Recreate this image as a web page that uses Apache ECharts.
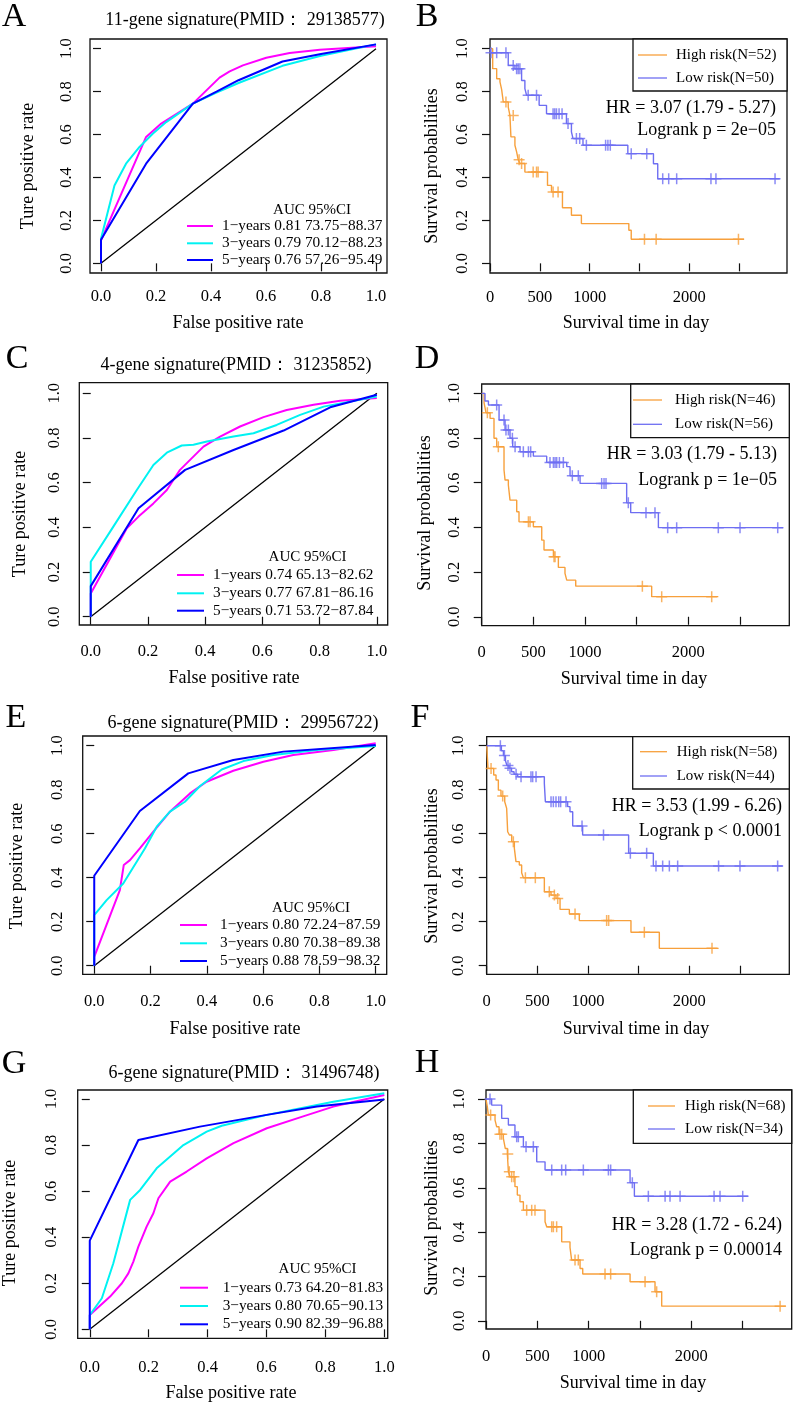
<!DOCTYPE html>
<html><head><meta charset="utf-8">
<script src="https://cdn.jsdelivr.net/npm/echarts@6/dist/echarts.min.js"></script>
<style>html,body{margin:0;padding:0;background:#fff}#c{width:795px;height:1408px}</style>
</head><body><div id="c"></div><script>
// ---------------- DATA ----------------
// ROC curves: [false positive rate, true positive rate]
const rocA_1y = [[0,0],[0,0.107],[0.164,0.589],[0.219,0.651],[0.334,0.744],[0.431,0.865],[0.468,0.894],[0.516,0.922],[0.601,0.958],[0.686,0.98],[0.796,0.995],[1,1.011]];
const rocA_3y = [[0,0],[0,0.115],[0.049,0.363],[0.091,0.464],[0.14,0.542],[0.188,0.604],[0.237,0.658],[0.334,0.744],[0.42,0.795],[0.5,0.84],[0.66,0.92],[0.8,0.967],[1,1.02]];
const rocA_5y = [[0,0],[0,0.11],[0.164,0.464],[0.334,0.744],[0.42,0.8],[0.5,0.853],[0.66,0.94],[0.8,0.975],[1,1.02]];
const rocC_1y = [[0,0],[0,0.104],[0.126,0.396],[0.167,0.448],[0.219,0.507],[0.266,0.567],[0.312,0.657],[0.394,0.761],[0.452,0.806],[0.522,0.851],[0.604,0.893],[0.685,0.925],[0.779,0.948],[0.872,0.966],[1,0.978]];
const rocC_3y = [[0,0],[0,0.246],[0.079,0.403],[0.161,0.567],[0.219,0.679],[0.266,0.734],[0.318,0.766],[0.359,0.769],[0.406,0.784],[0.499,0.806],[0.569,0.821],[0.65,0.858],[0.732,0.903],[0.814,0.94],[1,0.985]];
const rocC_5y = [[0,0],[0,0.137],[0.167,0.485],[0.33,0.657],[0.499,0.746],[0.674,0.833],[0.837,0.937],[1,0.993]];
const rocE_1y = [[0,0],[0,0.04],[0.091,0.344],[0.105,0.458],[0.127,0.48],[0.162,0.533],[0.21,0.609],[0.269,0.7],[0.34,0.783],[0.399,0.836],[0.494,0.886],[0.601,0.927],[0.707,0.958],[0.85,0.98],[1,1.011]];
const rocE_3y = [[0,0],[0,0.23],[0.044,0.298],[0.103,0.374],[0.18,0.533],[0.222,0.632],[0.269,0.7],[0.322,0.745],[0.376,0.817],[0.453,0.892],[0.53,0.93],[0.636,0.958],[0.79,0.98],[1,0.998]];
const rocE_5y = [[0,0],[0,0.409],[0.162,0.703],[0.334,0.874],[0.494,0.935],[0.672,0.973],[1,1.003]];
const rocG_1y = [[0,0],[0,0.062],[0.069,0.142],[0.109,0.2],[0.131,0.243],[0.148,0.294],[0.165,0.359],[0.193,0.446],[0.216,0.504],[0.233,0.569],[0.273,0.641],[0.329,0.685],[0.397,0.742],[0.488,0.808],[0.601,0.873],[0.714,0.92],[0.827,0.967],[1,1.017]];
const rocG_3y = [[0,0],[0,0.062],[0.041,0.135],[0.08,0.287],[0.137,0.562],[0.171,0.605],[0.227,0.699],[0.318,0.8],[0.397,0.858],[0.448,0.884],[0.601,0.931],[0.827,0.988],[1,1.025]];
const rocG_5y = [[0,0],[0,0.385],[0.165,0.822],[0.374,0.88],[0.601,0.931],[0.771,0.967],[1,0.998]];
const rocDiag = [[0,0],[1,1]];

const rocTitles = ['11-gene signature(PMID\uFF1A 29138577)','4-gene signature(PMID\uFF1A 31235852)','6-gene signature(PMID\uFF1A 29956722)','6-gene signature(PMID\uFF1A 31496748)'];
const rocLegendA = ['1\u2212years 0.81 73.75\u221288.37','3\u2212years 0.79 70.12\u221288.23','5\u2212years 0.76 57.26\u221295.49'];
const rocLegendC = ['1\u2212years 0.74 65.13\u221282.62','3\u2212years 0.77 67.81\u221286.16','5\u2212years 0.71 53.72\u221287.84'];
const rocLegendE = ['1\u2212years 0.80 72.24\u221287.59','3\u2212years 0.80 70.38\u221289.38','5\u2212years 0.88 78.59\u221298.32'];
const rocLegendG = ['1\u2212years 0.73 64.20\u221281.83','3\u2212years 0.80 70.65\u221290.13','5\u2212years 0.90 82.39\u221296.88'];
const rocTicks = [0,0.2,0.4,0.6,0.8,1];

// Kaplan-Meier: [day, survival]
const kmB_high = [[0,1],[27,0.907],[67,0.86],[100,0.845],[117,0.809],[133,0.752],[183,0.728],[200,0.689],[210,0.589],[250,0.55],[267,0.519],[283,0.483],[300,0.465],[350,0.425],[577,0.363],[617,0.332],[727,0.259],[817,0.224],[917,0.185],[1393,0.154],[1417,0.112],[2550,0.112]];
const kmB_highCens = [[160,0.752],[233,0.689],[292,0.483],[317,0.465],[433,0.425],[467,0.425],[483,0.425],[633,0.332],[683,0.332],[1550,0.112],[1667,0.112],[2493,0.112]];
const kmB_low = [[0,1],[5,0.981],[183,0.922],[250,0.907],[317,0.852],[350,0.814],[367,0.783],[493,0.736],[567,0.697],[767,0.651],[817,0.612],[833,0.581],[933,0.55],[1383,0.511],[1640,0.464],[1683,0.394],[2907,0.394]];
const kmB_lowCens = [[10,0.981],[67,0.981],[160,0.981],[233,0.922],[267,0.907],[283,0.907],[300,0.907],[383,0.783],[467,0.783],[633,0.697],[650,0.697],[667,0.697],[693,0.697],[723,0.697],[783,0.651],[867,0.581],[900,0.581],[967,0.55],[1160,0.55],[1183,0.55],[1207,0.55],[1417,0.511],[1573,0.511],[1733,0.394],[1793,0.394],[1873,0.394],[2217,0.394],[2267,0.394],[2860,0.394]];

const kmD_high = [[0,1],[23,0.958],[42,0.913],[81,0.888],[119,0.799],[145,0.761],[216,0.657],[226,0.612],[258,0.59],[274,0.522],[339,0.47],[361,0.425],[500,0.403],[581,0.343],[603,0.299],[694,0.269],[742,0.221],[806,0.194],[823,0.164],[910,0.137],[1645,0.09],[2290,0.09]];
const kmD_highCens = [[55,0.913],[161,0.761],[452,0.425],[468,0.425],[700,0.269],[710,0.269],[1555,0.137],[1742,0.09],[2226,0.09]];
const kmD_low = [[0,1],[32,0.966],[65,0.948],[168,0.881],[226,0.836],[274,0.799],[300,0.761],[371,0.739],[500,0.719],[629,0.691],[823,0.672],[855,0.631],[952,0.597],[1403,0.51],[1442,0.466],[1710,0.399],[2919,0.399]];
const kmD_lowCens = [[145,0.948],[216,0.881],[235,0.836],[258,0.836],[297,0.799],[323,0.761],[403,0.739],[452,0.739],[474,0.739],[661,0.691],[694,0.691],[710,0.691],[726,0.691],[752,0.691],[790,0.691],[877,0.631],[935,0.631],[1161,0.597],[1184,0.597],[1203,0.597],[1419,0.51],[1590,0.466],[1677,0.466],[1800,0.399],[1887,0.399],[2290,0.399],[2500,0.399],[2865,0.399]];

const kmF_high = [[0,1],[13,0.897],[69,0.867],[92,0.844],[115,0.798],[141,0.771],[178,0.745],[197,0.715],[207,0.609],[224,0.594],[247,0.564],[273,0.533],[289,0.473],[322,0.458],[345,0.423],[362,0.4],[569,0.336],[635,0.321],[684,0.306],[724,0.256],[816,0.235],[914,0.205],[1424,0.152],[1704,0.079],[2289,0.079]];
const kmF_highCens = [[43,0.897],[158,0.771],[263,0.564],[382,0.4],[480,0.4],[618,0.336],[668,0.321],[701,0.306],[872,0.235],[1184,0.205],[1204,0.205],[1556,0.152],[2224,0.079]];
const kmF_low = [[0,1],[145,0.977],[165,0.955],[185,0.932],[200,0.91],[220,0.898],[245,0.882],[270,0.87],[306,0.859],[569,0.829],[579,0.745],[799,0.723],[822,0.7],[849,0.635],[947,0.594],[1401,0.511],[1645,0.453],[2921,0.453]];
const kmF_lowCens = [[135,1],[175,0.955],[210,0.91],[230,0.898],[290,0.87],[339,0.859],[437,0.859],[454,0.859],[487,0.859],[635,0.745],[658,0.745],[684,0.745],[711,0.745],[730,0.745],[783,0.745],[941,0.635],[1153,0.594],[1418,0.511],[1579,0.511],[1671,0.453],[1737,0.453],[1803,0.453],[1885,0.453],[2289,0.453],[2500,0.453],[2872,0.453]];

const kmH_high = [[0,1],[13,0.965],[23,0.928],[88,0.905],[104,0.875],[127,0.841],[169,0.823],[188,0.777],[208,0.752],[218,0.672],[234,0.65],[282,0.605],[305,0.567],[331,0.537],[364,0.499],[575,0.447],[591,0.424],[737,0.356],[818,0.331],[834,0.274],[916,0.236],[942,0.211],[1403,0.176],[1646,0.131],[1711,0.066],[2922,0.066]];
const kmH_highCens = [[45,0.928],[136,0.841],[153,0.841],[212,0.752],[227,0.672],[250,0.65],[272,0.65],[396,0.499],[445,0.499],[477,0.499],[640,0.424],[656,0.424],[688,0.424],[867,0.274],[899,0.274],[1159,0.211],[1214,0.211],[1549,0.176],[1662,0.131],[2864,0.066]];
const kmH_low = [[0,1],[55,0.973],[153,0.913],[218,0.883],[282,0.83],[364,0.785],[494,0.717],[575,0.68],[1403,0.623],[1445,0.562],[2555,0.562]];
const kmH_lowCens = [[39,1],[299,0.83],[315,0.83],[390,0.785],[461,0.785],[640,0.68],[737,0.68],[776,0.68],[948,0.68],[1192,0.68],[1214,0.68],[1425,0.623],[1581,0.562],[1744,0.562],[1792,0.562],[1890,0.562],[2221,0.562],[2279,0.562],[2500,0.562]];

const kmLegends = [['High risk(N=52)','Low risk(N=50)'],['High risk(N=46)','Low risk(N=56)'],['High risk(N=58)','Low risk(N=44)'],['High risk(N=68)','Low risk(N=34)']];
const kmStats = [['HR = 3.07 (1.79 - 5.27)','Logrank p = 2e\u221205'],['HR = 3.03 (1.79 - 5.13)','Logrank p = 1e\u221205'],['HR = 3.53 (1.99 - 6.26)','Logrank p < 0.0001'],['HR = 3.28 (1.72 - 6.24)','Logrank p = 0.00014']];
const kmTicks = [0,500,1000,1500,2000,2500];
const kmTickLabels = [0,500,1000,2000];
const yTicks = [0,0.2,0.4,0.6,0.8,1];
const panelLetters = ['A','B','C','D','E','F','G','H'];

// ---------------- LAYOUT / STYLE ----------------
const FF = 'Liberation Serif';
const C_MAG='#FF00FF', C_CYAN='#00F2F2', C_BLUE='#0000FF', C_OR='#F7A03C', C_LB='#6E6EF2';

const rocPanels = [
  {g:[90,39,297,234], x:[-0.04,1.04], y:[-0.045,1.045], xm:15.5, ym:15, curves:[rocA_1y,rocA_3y,rocA_5y], leg:rocLegendA,
   title:[245,20], letter:[14,17], xt:[238,323], yt:[28,166], auc:[312,210], legY:[226,243.3,260], legX:[187,213,222]},
  {g:[79.3,382.7,308.4,242.3], x:[-0.04,1.038], y:[-0.037,1.047], xm:18.5, ym:16, curves:[rocC_1y,rocC_3y,rocC_5y], leg:rocLegendC,
   title:[236,365], letter:[17,359], xt:[234,678], yt:[20,514], auc:[307.5,556.7], legY:[575,593.3,610.7], legX:[177,204,213]},
  {g:[82.7,736,304,238.3], x:[-0.041,1.039], y:[-0.039,1.044], xm:19, ym:17, curves:[rocE_1y,rocE_3y,rocE_5y], leg:rocLegendE,
   title:[243,723], letter:[16,718], xt:[235,1029], yt:[17,866], auc:[311,908], legY:[925,943.3,961], legX:[180,207,220]},
  {g:[77.7,1090,310,248.3], x:[-0.041,1.0115], y:[-0.039,1.039], xm:20.5, ym:18, curves:[rocG_1y,rocG_3y,rocG_5y], leg:rocLegendG,
   title:[244,1073], letter:[14,1064], xt:[231,1393], yt:[10,1223], auc:[317.5,1269], legY:[1287.7,1306,1324.3], legX:[180,208,222.7]}
];
const kmPanels = [
  {g:[490,39,297,234], x:[0,2980], y:[-0.045,1.045], xm:16, ym:19, hi:kmB_high, hiC:kmB_highCens, lo:kmB_low, loC:kmB_lowCens,
   letter:[427,17], xt:[636,323], yt:[432,166], lb:[633,39,154,52], legY:[55,78], legX:[638,667,676], st:[776,108.3,130.7]},
  {g:[481.7,384,307.6,241.7], x:[0,2977], y:[-0.04,1.042], xm:18, ym:19, hi:kmD_high, hiC:kmD_highCens, lo:kmD_low, loC:kmD_lowCens,
   letter:[427,359], xt:[634,679], yt:[425,513], lb:[630.7,384,158.6,53.7], legY:[400,424.3], legX:[633,662,675], st:[777,454,480]},
  {g:[486.7,736.7,302.6,237.6], x:[0,2987], y:[-0.039,1.041], xm:19, ym:20, hi:kmF_high, hiC:kmF_highCens, lo:kmF_low, loC:kmF_lowCens,
   letter:[420,718], xt:[636,1029], yt:[432,866], lb:[632.7,736.7,156.6,52.3], legY:[751.7,776], legX:[640,667,676.7], st:[782,806,831.7]},
  {g:[486,1090,305.7,239], x:[0,2977], y:[-0.037,1.041], xm:19.5, ym:18, hi:kmH_high, hiC:kmH_highCens, lo:kmH_low, loC:kmH_lowCens,
   letter:[427,1063], xt:[633,1383], yt:[432,1218], lb:[633.3,1090,158.4,53.3], legY:[1106,1129], legX:[648,675,685], st:[782,1225,1250.7]}
];

// ---------------- BUILD ----------------
const grids=[], xAxes=[], yAxes=[], series=[], graphic=[];
function txt(x,y,s,size,align,rot){
  return {type:'text', x:x, y:y, rotation:rot||0, z:100,
    style:{text:s, fontFamily:FF, fontSize:size, fill:'#000', align:align||'center', verticalAlign:'middle'}};
}
function addGrid(lay, xT, xL, xFmt){
  const i = grids.length;
  grids.push({left:lay.g[0], top:lay.g[1], width:lay.g[2], height:lay.g[3], show:true, borderColor:'#111', borderWidth:1.3, backgroundColor:'transparent'});
  xAxes.push({type:'value', gridIndex:i, min:lay.x[0], max:lay.x[1], splitLine:{show:false}, axisLine:{show:false},
    axisTick:{show:true, customValues:xT, length:8, lineStyle:{color:'#111', width:1.2}},
    axisLabel:{show:true, customValues:xL, margin:lay.xm, fontFamily:FF, fontSize:16.5, color:'#000', formatter:xFmt}});
  yAxes.push({type:'value', gridIndex:i, min:lay.y[0], max:lay.y[1], splitLine:{show:false}, axisLine:{show:false},
    axisTick:{show:true, customValues:yTicks, length:8, lineStyle:{color:'#111', width:1.2}},
    axisLabel:{show:true, customValues:yTicks, margin:lay.ym, rotate:90, fontFamily:FF, fontSize:16.5, color:'#000', formatter:v=>v.toFixed(1)}});
  return i;
}
function line(i, data, color, w, step){
  const s = {type:'line', xAxisIndex:i, yAxisIndex:i, data:data, showSymbol:false, symbol:'none', animation:false,
    lineStyle:{color:color, width:w}, itemStyle:{color:color}, z:3};
  if (step) s.step = 'end';
  return s;
}
function cens(i, data, color){
  return {type:'scatter', xAxisIndex:i, yAxisIndex:i, data:data, animation:false, z:4,
    symbol:'path://M0,5L10,5M5,0L5,10', symbolSize:[11,11],
    itemStyle:{color:'none', borderColor:color, borderWidth:1.5}};
}

const rocColors = [C_MAG, C_CYAN, C_BLUE];
rocPanels.forEach((p, k) => {
  const i = addGrid(p, rocTicks, rocTicks, v=>v.toFixed(1));
  series.push(line(i, rocDiag, '#000', 1.3, false));
  p.curves.forEach((c, j) => series.push(line(i, c, rocColors[j], 2, false)));
  graphic.push(txt(p.title[0], p.title[1], rocTitles[k], 18));
  graphic.push(txt(p.letter[0], p.letter[1], panelLetters[k*2], 34));
  graphic.push(txt(p.xt[0], p.xt[1], 'False positive rate', 18));
  graphic.push(txt(p.yt[0], p.yt[1], 'Ture positive rate', 18, 'center', Math.PI/2));
  graphic.push(txt(p.auc[0], p.auc[1], 'AUC 95%CI', 15));
  p.leg.forEach((s, j) => {
    graphic.push({type:'line', z:100, shape:{x1:p.legX[0], y1:p.legY[j], x2:p.legX[1], y2:p.legY[j]}, style:{stroke:rocColors[j], lineWidth:2}});
    graphic.push(txt(p.legX[2], p.legY[j], s, 15.3, 'left'));
  });
});
kmPanels.forEach((p, k) => {
  const i = addGrid(p, kmTicks, kmTickLabels, v=>String(v));
  series.push(line(i, p.hi, C_OR, 1.4, true));
  series.push(line(i, p.lo, C_LB, 1.4, true));
  series.push(cens(i, p.hiC, C_OR));
  series.push(cens(i, p.loC, C_LB));
  graphic.push(txt(p.letter[0], p.letter[1], panelLetters[k*2+1], 34));
  graphic.push(txt(p.xt[0], p.xt[1], 'Survival time in day', 18));
  graphic.push(txt(p.yt[0], p.yt[1], 'Survival probabilities', 18, 'center', Math.PI/2));
  graphic.push({type:'rect', z:99, shape:{x:p.lb[0], y:p.lb[1], width:p.lb[2], height:p.lb[3]}, style:{fill:'#fff', stroke:'#111', lineWidth:1.3}});
  [C_OR, C_LB].forEach((c, j) => {
    graphic.push({type:'line', z:100, shape:{x1:p.legX[0], y1:p.legY[j], x2:p.legX[1], y2:p.legY[j]}, style:{stroke:c, lineWidth:1.3}});
    graphic.push(txt(p.legX[2], p.legY[j], kmLegends[k][j], 15, 'left'));
  });
  graphic.push(txt(p.st[0], p.st[1], kmStats[k][0], 18, 'right'));
  graphic.push(txt(p.st[0], p.st[2], kmStats[k][1], 18, 'right'));
});

const chart = echarts.init(document.getElementById('c'));
chart.setOption({backgroundColor:'#fff', animation:false, grid:grids, xAxis:xAxes, yAxis:yAxes, series:series, graphic:graphic});
</script></body></html>
